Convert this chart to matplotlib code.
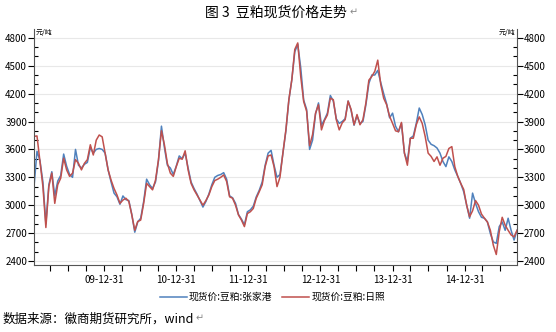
import pandas as pd
import matplotlib
matplotlib.use("Agg")
import matplotlib.pyplot as plt
import matplotlib.dates as mdates
from matplotlib.ticker import MultipleLocator

plt.rcParams['font.family'] = ['Noto Sans CJK SC', 'DejaVu Sans']

# -------------------------
# dados (semi-mensal, 15 dias)
# -------------------------
datas = pd.date_range("2009-01-11", periods=164, freq="15D")

rizhao = [
    3740, 3745, 3470, 3200, 2760, 3200, 3345, 3020, 3220, 3290,
    3505, 3380, 3310, 3345, 3490, 3450, 3380, 3450, 3490, 3650,
    3540, 3700, 3755, 3735, 3560, 3380, 3270, 3180, 3110, 3020,
    3055, 3075, 3040, 2895, 2730, 2825, 2840, 3020, 3235, 3200,
    3165, 3270, 3490, 3800, 3650, 3450, 3345, 3310, 3415, 3505,
    3495, 3585, 3380, 3235, 3165, 3110, 3055, 3000, 3050, 3110,
    3200, 3265, 3280, 3300, 3325, 3255, 3090, 3075, 3000, 2895,
    2840, 2770, 2910, 2930, 2965, 3075, 3145, 3220, 3415, 3530,
    3540, 3415, 3200, 3300, 3565, 3810, 4135, 4350, 4675, 4745,
    4385, 4115, 4010, 3640, 3760, 3990, 4080, 3810, 3910, 3970,
    4150, 4135, 3920, 3810, 3885, 3920, 4120, 4030, 3865, 3975,
    3865, 3920, 4100, 4345, 4385, 4440, 4560, 4300, 4150, 4080,
    3955, 3880, 3800, 3790, 3890, 3560, 3430, 3720, 3720, 3865,
    3950, 3880, 3740, 3560, 3525, 3470, 3520, 3430, 3505, 3525,
    3610, 3630, 3415, 3310, 3235, 3170, 3000, 2875, 2940, 3050,
    3000, 2905, 2860, 2820, 2730, 2570, 2470, 2715, 2870, 2785,
    2730, 2680, 2660, 2730,
]

zhangjiagang = [
    3200, 3580, 3480, 3250, 2800, 3220, 3360, 3100, 3260, 3320,
    3550, 3420, 3330, 3300, 3600, 3430, 3400, 3440, 3460, 3620,
    3560, 3600, 3610, 3600, 3560, 3380, 3250, 3130, 3090, 3010,
    3100, 3060, 3050, 2900, 2710, 2820, 2860, 3040, 3280, 3220,
    3180, 3250, 3480, 3850, 3620, 3430, 3400, 3330, 3420, 3530,
    3500, 3560, 3400, 3250, 3180, 3120, 3050, 2980, 3040, 3120,
    3220, 3300, 3320, 3330, 3350, 3280, 3100, 3080, 3020, 2900,
    2850, 2790, 2930, 2950, 2990, 3090, 3160, 3250, 3430, 3560,
    3590, 3430, 3300, 3330, 3560, 3800, 4130, 4350, 4650, 4730,
    4480, 4130, 4030, 3600, 3700, 3980, 4100, 3860, 3920, 3990,
    4180, 4120, 3930, 3880, 3900, 3930, 4120, 4020, 3860, 3960,
    3880, 3900, 4080, 4310, 4400, 4400, 4450, 4320, 4200, 4090,
    3940, 3990, 3850, 3790, 3880, 3560, 3470, 3720, 3745, 3880,
    4045, 3975, 3865, 3700, 3655, 3640, 3615, 3560, 3470, 3415,
    3520, 3470, 3380, 3310, 3235, 3145, 3000, 2860, 3130, 3020,
    2930, 2870, 2860, 2820, 2695, 2605, 2590, 2770, 2820, 2730,
    2860, 2730, 2625, 2730,
]

serie_zjg = "现货价:豆粕:张家港"
serie_rz = "现货价:豆粕:日照"

# -------------------------
# grafico
# -------------------------
fig = plt.figure(figsize=(5.56, 3.32), dpi=100)
ax = fig.add_axes([0.0612, 0.2018, 0.8687, 0.7109])

ax.plot(datas, zhangjiagang, color="#4F81BD", lw=1.1, label=serie_zjg)
ax.plot(datas, rizhao, color="#C0504D", lw=1.1, label=serie_rz)

ax.set_xlim(datas[0], datas[-1])
ax.set_ylim(2357, 4895)

ax.yaxis.set_major_locator(MultipleLocator(300))
ax.yaxis.set_minor_locator(MultipleLocator(100))
ax.grid(axis="y", color="#E8E8E8", lw=0.8)
ax.set_axisbelow(True)

trimestres = pd.date_range("2009-01-01", "2015-12-31", freq="QE")
anos = [d for d in trimestres if d.month == 12 and d.year <= 2014]
ax.set_xticks(anos)
ax.set_xticks([d for d in trimestres if d.month != 12 and datas[0] <= d <= datas[-1]], minor=True)
ax.xaxis.set_major_formatter(mdates.DateFormatter("%y-%m-%d"))

ax.tick_params(axis="y", which="major", direction="out", length=4, width=0.8,
               labelsize=7, left=True, right=True, labelleft=True, labelright=True, pad=1)
ax.tick_params(axis="y", which="minor", direction="in", length=3, width=0.8,
               left=True, right=True)
ax.tick_params(axis="x", which="both", direction="out", length=4, width=0.8,
               labelsize=7, pad=3)

ax.spines["top"].set_visible(False)
for lado in ["left", "right", "bottom"]:
    ax.spines[lado].set_color("#555555")
    ax.spines[lado].set_linewidth(0.8)

ax.text(0.003, 1.0, "元/吨", transform=ax.transAxes, fontsize=5, ha="left", va="top")
ax.text(0.997, 1.0, "元/吨", transform=ax.transAxes, fontsize=5, ha="right", va="top")

fig.text(0.497, 0.962, "图 3  豆粕现货价格走势", fontsize=10, ha="center", va="center")
fig.text(0.628, 0.962, "↵", fontsize=7, ha="left", va="center", color="#888888")

fig.legend(loc="center", bbox_to_anchor=(0.49, 0.105), ncol=2, frameon=False,
           fontsize=7, handlelength=2.8, handletextpad=0.2, columnspacing=1.0)

fig.text(0.004, 0.04, "数据来源：徽商期货研究所，wind", fontsize=9, ha="left", va="center")
fig.text(0.352, 0.04, "↵", fontsize=7, ha="left", va="center", color="#888888")

fig.savefig("out.png", dpi=100)
